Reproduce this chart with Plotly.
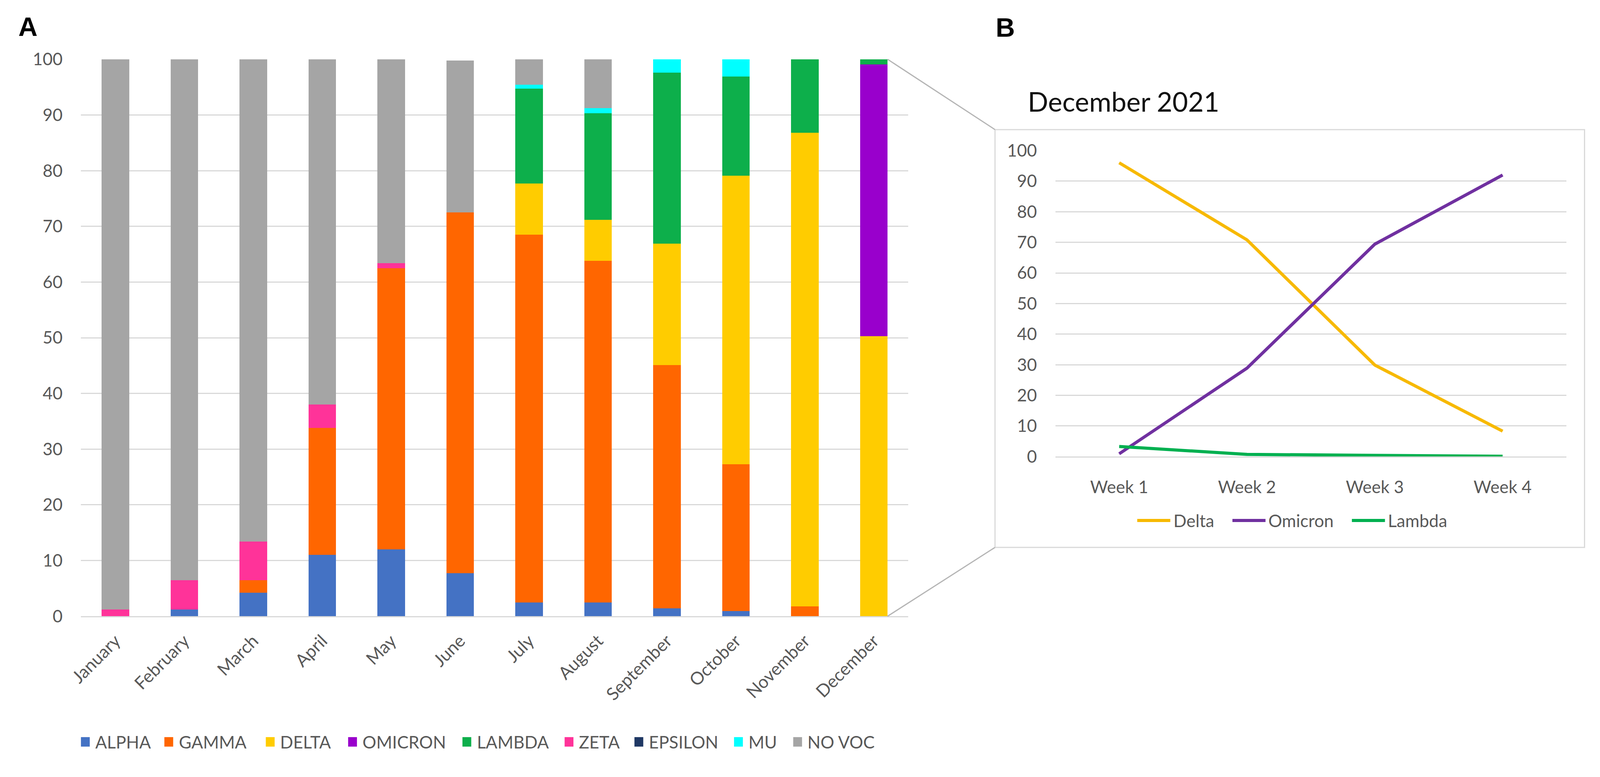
import plotly.graph_objects as go

# %%
# Panel A data: share of sequenced samples per month (%)
months = ["January", "February", "March", "April", "May", "June", "July",
          "August", "September", "October", "November", "December"]

alpha   = [0, 1.2, 4.2, 11.0, 12.0, 7.7, 2.5, 2.5, 1.4, 0.9, 0, 0]
gamma   = [0, 0, 2.3, 22.8, 50.5, 64.8, 66.0, 61.3, 43.7, 26.4, 1.8, 0]
delta   = [0, 0, 0, 0, 0, 0, 9.2, 7.4, 21.8, 51.8, 85.0, 50.3]
omicron = [0, 0, 0, 0, 0, 0, 0, 0, 0, 0, 0, 48.8]
lambda_ = [0, 0, 0, 0, 0, 0, 17.0, 19.1, 30.7, 17.8, 13.2, 0.9]
zeta    = [1.2, 5.3, 6.9, 4.2, 0.9, 0, 0, 0, 0, 0, 0, 0]
epsilon = [0, 0, 0, 0, 0, 0, 0, 0, 0, 0, 0, 0]
mu      = [0, 0, 0, 0, 0, 0, 0.7, 0.9, 2.4, 3.1, 0, 0]
no_voc  = [98.8, 93.5, 86.6, 62.0, 36.6, 27.3, 4.6, 8.8, 0, 0, 0, 0]

variant_names = ["ALPHA", "GAMMA", "DELTA", "OMICRON", "LAMBDA",
                 "ZETA", "EPSILON", "MU", "NO VOC"]
variant_values = [alpha, gamma, delta, omicron, lambda_, zeta, epsilon, mu, no_voc]

# Panel B data: December 2021 by week (%)
weeks = ["Week 1", "Week 2", "Week 3", "Week 4"]
dec_delta   = [96.0, 70.8, 29.9, 8.3]
dec_omicron = [0.9, 28.9, 69.4, 92.0]
dec_lambda  = [3.3, 0.7, 0.4, 0.1]

line_names = ["Delta", "Omicron", "Lambda"]
line_values = [dec_delta, dec_omicron, dec_lambda]

# %%
# styling
bar_colors = ["#4472C4", "#FF6600", "#FFCC00", "#9900CC", "#0DAF4B",
              "#FF3399", "#1F3864", "#00FFFF", "#A5A5A5"]
line_colors = ["#F7B900", "#7030A0", "#00B050"]
grid = "#D9D9D9"
tick_col = "#595959"
font = "Lato"

# layout is measured on a 4317 px wide picture, the page is 4096 px wide
REF_W = 4317
VIEW_W = 4096
FW, FH = 4078, 1972
SX = VIEW_W / REF_W


def px(x):
    return (x * SX - 8) / FW


def py(y):
    return 1 - (y - 8) / FH


xa_dom = [px(184), px(2435)]
ya_dom = [py(1592), py(127)]
xb_dom = [px(2835), px(4226)]
yb_dom = [py(1172), py(367)]

fs = 44

fig = go.Figure()

for name, vals, col in zip(variant_names, variant_values, bar_colors):
    fig.add_trace(go.Bar(x=months, y=vals, name=name, marker_color=col,
                         marker_line_width=0, showlegend=False,
                         xaxis="x", yaxis="y"))

for name, vals, col in zip(line_names, line_values, line_colors):
    fig.add_trace(go.Scatter(x=weeks, y=vals, name=name, mode="lines",
                             line=dict(color=col, width=8), showlegend=False,
                             xaxis="x2", yaxis="y2"))

fig.update_layout(
    width=FW, height=FH,
    margin=dict(l=0, r=0, t=0, b=0),
    paper_bgcolor="white", plot_bgcolor="white",
    barmode="stack", bargap=0.6,
    font=dict(family=font, size=fs, color=tick_col),
    xaxis=dict(domain=xa_dom, anchor="y", type="category", range=[-0.5, 11.5],
               tickangle=-45, showgrid=False, showline=True, linecolor=grid,
               linewidth=3, ticks="", ticklabelstandoff=16,
               tickfont=dict(size=fs + 1, color=tick_col)),
    yaxis=dict(domain=ya_dom, anchor="x", range=[0, 100], dtick=10,
               showgrid=True, gridcolor=grid, gridwidth=3, zeroline=False,
               ticks="", ticklabelstandoff=46,
               tickfont=dict(size=fs, color=tick_col)),
    xaxis2=dict(domain=xb_dom, anchor="y2", type="category", range=[-0.5, 3.5],
                showgrid=False, showline=True, linecolor=grid, linewidth=3,
                ticks="", ticklabelstandoff=38,
                tickfont=dict(size=fs, color=tick_col)),
    yaxis2=dict(domain=yb_dom, anchor="x2", range=[0, 100], dtick=10,
                showgrid=True, gridcolor=grid, gridwidth=3, zeroline=False,
                ticks="", ticklabelstandoff=46,
                tickfont=dict(size=fs, color=tick_col)),
)

shapes = []
annotations = []

# frame around panel B and the zoom connector from the December bar
shapes.append(dict(type="rect", xref="paper", yref="paper",
                   x0=px(2671), x1=px(4275), y0=py(1411), y1=py(312),
                   line=dict(color=grid, width=3), layer="below"))
dec_edge = xa_dom[0] + (11 + 0.5 + 0.2) / 12 * (xa_dom[1] - xa_dom[0])
for ya, yb in [(ya_dom[1], py(312)), (ya_dom[0], py(1411))]:
    shapes.append(dict(type="line", xref="paper", yref="paper",
                       x0=dec_edge, x1=px(2671), y0=ya, y1=yb,
                       line=dict(color="#B4B4B4", width=3)))

# legend for panel A (square swatches)
sw_x = [184, 411, 687, 911, 1222, 1500, 1690, 1961, 2122]
leg_y = 1922
for name, col, x in zip(variant_names, bar_colors, sw_x):
    shapes.append(dict(type="rect", xref="paper", yref="paper",
                       x0=px(x), x1=px(x + 24), y0=py(leg_y + 13), y1=py(leg_y - 12),
                       fillcolor=col, line=dict(width=0)))
    annotations.append(dict(text=name, xref="paper", yref="paper",
                            x=px(x + 37), y=py(leg_y), xanchor="left", yanchor="middle",
                            showarrow=False, font=dict(size=fs, color=tick_col)))

# legend for panel B (line swatches)
seg_x = [3058, 3317, 3642]
leg_b_y = 1340
for name, col, x in zip(line_names, line_colors, seg_x):
    shapes.append(dict(type="line", xref="paper", yref="paper",
                       x0=px(x), x1=px(x + 90), y0=py(leg_b_y), y1=py(leg_b_y),
                       line=dict(color=col, width=8)))
    annotations.append(dict(text=name, xref="paper", yref="paper",
                            x=px(x + 96), y=py(leg_b_y), xanchor="left", yanchor="middle",
                            showarrow=False, font=dict(size=fs, color=tick_col)))

# titles and panel letters
annotations.append(dict(text="December 2021", xref="paper", yref="paper",
                        x=px(2758), y=py(238), xanchor="left", yanchor="middle",
                        showarrow=False, font=dict(size=69, color="#111111")))
annotations.append(dict(text="<b>A</b>", xref="paper", yref="paper",
                        x=px(12), y=py(41), xanchor="left", yanchor="middle",
                        showarrow=False,
                        font=dict(family="Liberation Sans", size=68, color="black")))
annotations.append(dict(text="<b>B</b>", xref="paper", yref="paper",
                        x=px(2671), y=py(43), xanchor="left", yanchor="middle",
                        showarrow=False,
                        font=dict(family="Liberation Sans", size=68, color="black")))

fig.update_layout(shapes=shapes, annotations=annotations)

fig.write_html("out.html")
